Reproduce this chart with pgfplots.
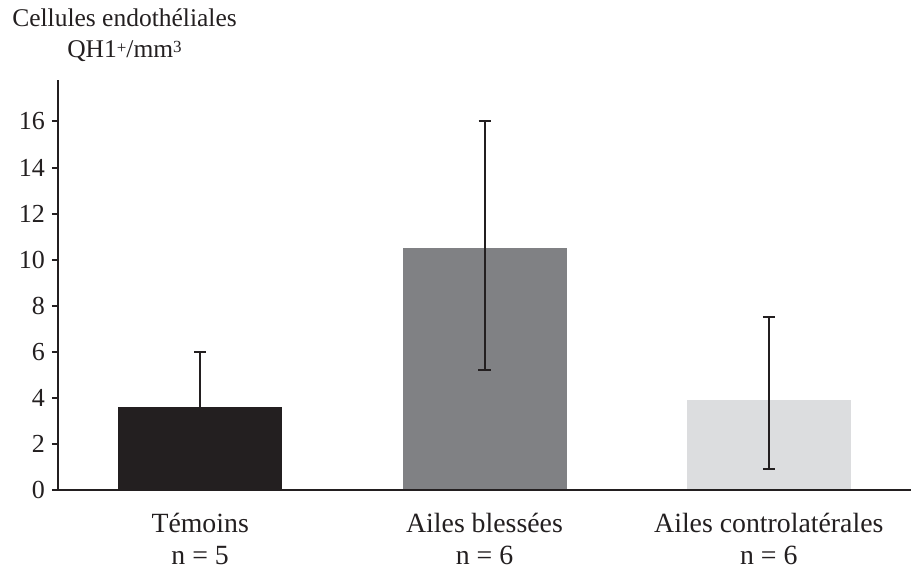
\documentclass[border=0pt]{standalone}
\usepackage{fontspec}
\setmainfont{Liberation Serif}
\usepackage{pgfplots}
\pgfplotsset{compat=1.18}
\definecolor{inkblack}{HTML}{231F20}
\definecolor{midgray}{HTML}{808184}
\definecolor{lightgray}{HTML}{DCDDDF}
\newcommand{\lblfont}{\fontsize{12.75bp}{16.5bp}\selectfont}
\newcommand{\xlblfont}{\fontsize{13.9bp}{16bp}\selectfont}
\newcommand{\ylblfont}{\fontsize{13bp}{16.5bp}\selectfont}
\begin{document}
\begin{tikzpicture}
\path[use as bounding box] (-29bp,-40.5bp) rectangle (426.5bp,245bp);
\begin{axis}[
  scale only axis, width=426.5bp, height=205bp,
  xmin=-0.5, xmax=2.5, ymin=0, ymax=17.8,
  axis x line=bottom, axis y line=left,
  axis line style={-, draw=inkblack, line width=1bp},
  xtick={0,1,2},
  xticklabels={{Témoins\\n = 5},{Ailes blessées\\n = 6},{Ailes controlatérales\\n = 6}},
  xticklabel style={align=center, font=\xlblfont, text=inkblack, yshift=-5bp},
  major x tick style={draw=none},
  ytick={0,2,...,16},
  yticklabel style={font=\ylblfont, text=inkblack},
  tick align=outside, major tick length=3bp,
  y tick style={inkblack, line width=1bp},
  /pgf/number format/assume math mode=true,
  clip=false, axis on top,
  error bars/error bar style={line width=1bp, inkblack},
  error bars/error mark options={rotate=90, mark size=3bp, line width=1bp, inkblack},
]
\addplot[ybar, bar width=82bp, fill=inkblack, draw=none,
  error bars/.cd, y dir=both, y explicit]
  coordinates {(0,3.6) +- (0,2.4)};
\addplot[ybar, bar width=82bp, fill=midgray, draw=none,
  error bars/.cd, y dir=both, y explicit]
  coordinates {(1,10.5) += (0,5.5) -= (0,5.3)};
\addplot[ybar, bar width=82bp, fill=lightgray, draw=none,
  error bars/.cd, y dir=both, y explicit]
  coordinates {(2,3.9) += (0,3.6) -= (0,3.0)};
\end{axis}
\node[font=\lblfont, anchor=base, text=inkblack] at (33.25bp,231.5bp) {Cellules endothéliales};
\node[font=\lblfont, anchor=base, text=inkblack] at (33.25bp,216bp) {QH1{\fontsize{8.5bp}{10bp}\selectfont\raisebox{0.55ex}{+}}/mm{\fontsize{8.5bp}{10bp}\selectfont\raisebox{0.75ex}{3}}};
\end{tikzpicture}
\end{document}
